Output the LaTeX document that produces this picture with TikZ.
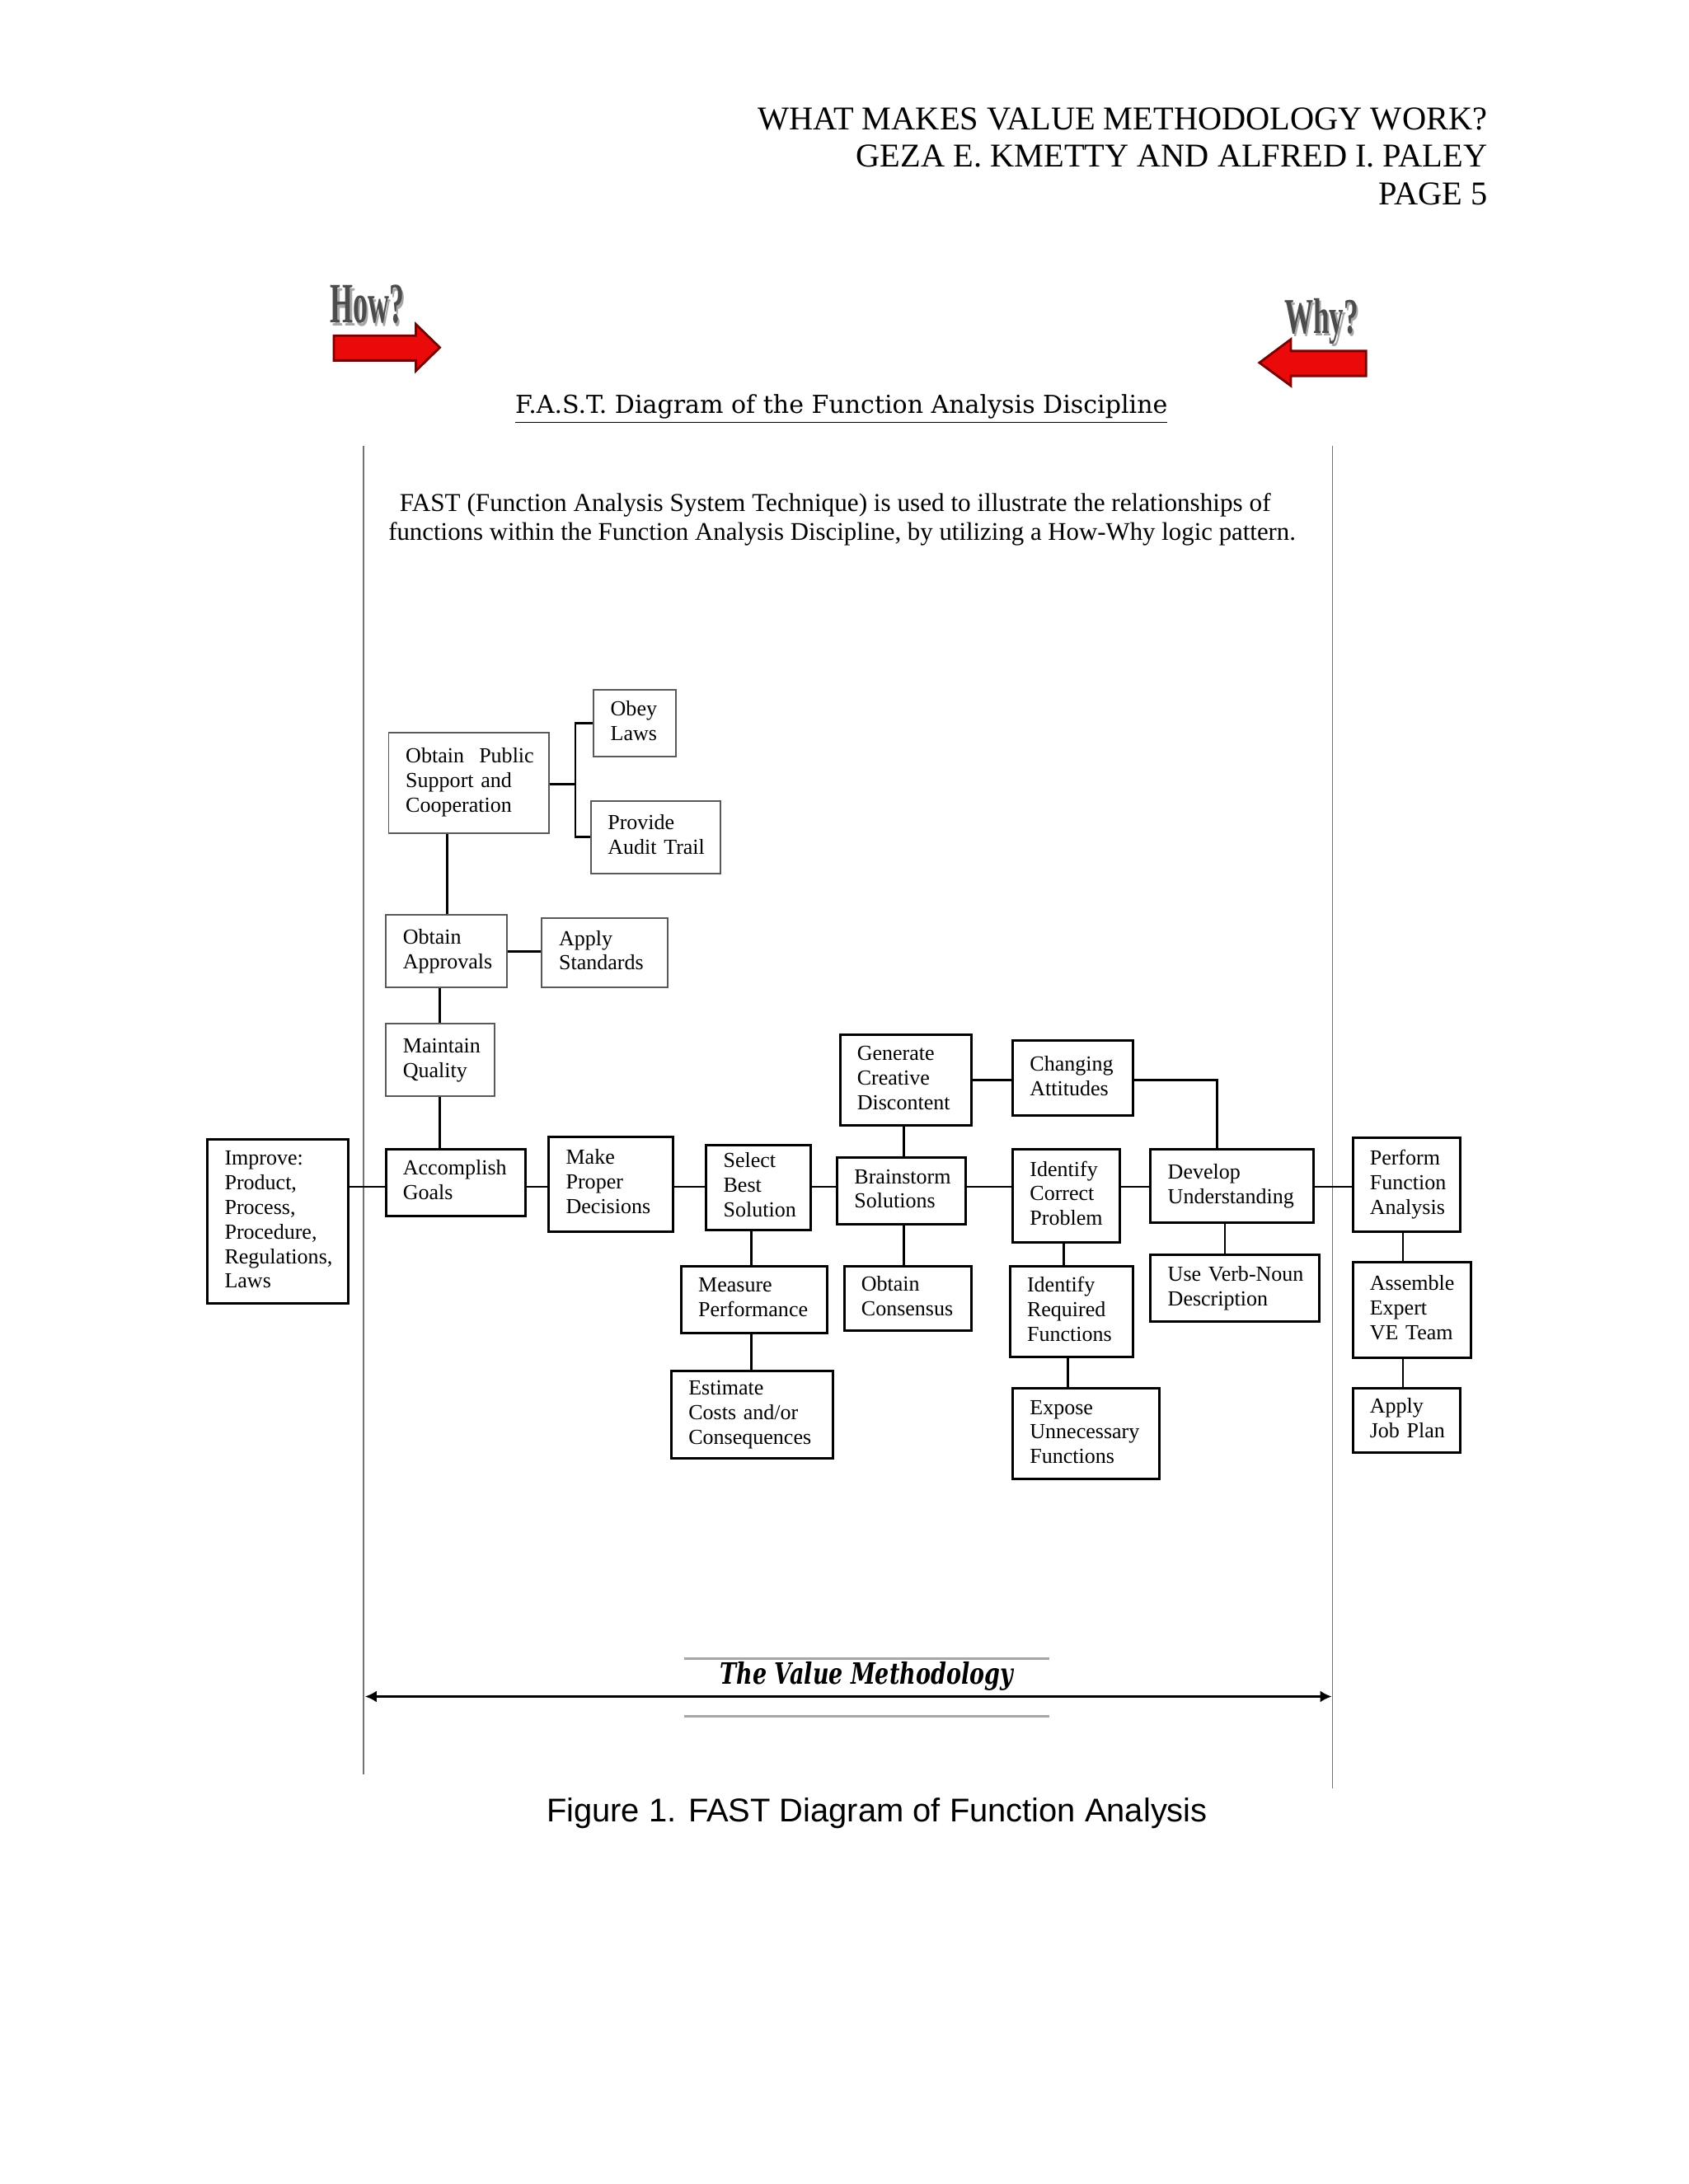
\documentclass[tikz,border=0pt]{standalone}
\usepackage{graphicx}
\usepackage{fontspec}
\setmainfont{Liberation Serif}
\newfontfamily\sansf{Liberation Sans}
\newfontfamily\slabf{DejaVu Serif}
\usetikzlibrary{arrows.meta}
\definecolor{arrowred}{RGB}{235,10,10}
\definecolor{arrowdark}{RGB}{120,0,0}
\tikzset{
  mainbox/.style={draw=black, line width=0.85pt, inner xsep=0pt, inner ysep=0pt, align=left,
     font=\fontsize{7.4}{8.5}\selectfont},
  lightbox/.style={mainbox, draw=black!65, line width=0.55pt},
  conn/.style={draw=black, line width=0.8pt},
  frame/.style={draw=black!55, line width=0.45pt},
  grayrule/.style={draw=black!35, line width=0.9pt},
  redarrow/.style={fill=arrowred, draw=arrowdark, line width=0.8pt, line join=miter},
  hdr/.style={anchor=base east, font=\fontsize{11.48}{13}\selectfont, inner sep=0pt},
}
\newcommand\mkbox[7][mainbox]{%
  \pgfmathsetmacro\bw{(#5-#3)*0.48078}%
  \pgfmathsetmacro\bh{(#6-#4)*0.48078}%
  \node[#1, minimum width=\bw pt, minimum height=\bh pt, text width=\bw pt] (#2) at ({(#3+#5)/2},{(#4+#6)/2})
    {\begin{tabular}{@{\hspace{5.9pt}}l@{}}#7\end{tabular}};}
\begin{document}
\begin{tikzpicture}[x=0.016898cm, y=-0.016898cm]
\useasboundingbox (0,0) rectangle (1212,1568);
\fill[white] (0,0) rectangle (1212,1568);

% header
\node[hdr] (h1) at (1068,93) {WHAT MAKES VALUE METHODOLOGY WORK?};
\node[hdr] (h2) at (1068,120) {GEZA E. KMETTY AND ALFRED I. PALEY};
\node[hdr] (h3) at (1068,147) {PAGE 5};

% How? / Why?
\node[inner sep=0pt, text=black!35] (howsh) at (265,220.5) {\resizebox{25.5pt}{13pt}{\bfseries How?}};
\node[inner sep=0pt, text=black!70] (how) at (263.5,218.5) {\resizebox{25.5pt}{13pt}{\bfseries How?}};
\node[inner sep=0pt, text=black!35] (whysh) at (950,232.5) {\resizebox{25.5pt}{12pt}{\bfseries Why?}};
\node[inner sep=0pt, text=black!70] (why) at (948.5,230.5) {\resizebox{25.5pt}{12pt}{\bfseries Why?}};
\draw[redarrow] (239.6,241) -- (298.5,241) -- (298.5,232.8) -- (315.7,249.5) -- (298.5,266.3) -- (298.5,258.8) -- (239.6,258.8) -- cycle;
\draw[redarrow] (980.6,252) -- (926.6,252) -- (926.6,243.6) -- (904,260.4) -- (926.6,277) -- (926.6,269.9) -- (980.6,269.9) -- cycle;

% title
\node[anchor=base, inner sep=0pt] (title) at (604,297) {\resizebox{225pt}{!}{\slabf\underline{F.A.S.T. Diagram of the Function Analysis Discipline}}};

% frame lines
\coordinate (fl1) at (261,320); \coordinate (fl2) at (261,1274);
\coordinate (fr1) at (956.5,320); \coordinate (fr2) at (956.5,1284);
\draw[frame] (fl1) -- (fl2);
\draw[frame] (fr1) -- (fr2);

% paragraph
\node[anchor=base, inner sep=0pt] (p1) at (599.5,367) {\resizebox{300.5pt}{!}{FAST (Function Analysis System Technique) is used to illustrate the relationships of}};
\node[anchor=base, inner sep=0pt] (p2) at (604.5,388) {\resizebox{313pt}{!}{functions within the Function Analysis Discipline, by utilizing a How-Why logic pattern.}};

% boxes
\mkbox[lightbox]{sup}{279}{526}{394}{598}{Obtain\hspace{0.7em}Public\\Support and\\Cooperation}
\mkbox[lightbox]{obl}{426}{495}{485}{543}{Obey\\Laws}
\mkbox[lightbox]{pat}{424}{575}{517}{627}{Provide\\Audit Trail}
\mkbox[lightbox]{app}{277}{657}{364}{709}{Obtain\\Approvals}
\mkbox[lightbox]{aps}{389}{659}{479}{709}{Apply\\Standards}
\mkbox[lightbox]{mq}{277}{735}{355}{787}{Maintain\\Quality}
\mkbox{acc}{277}{825}{377}{873}{Accomplish\\Goals}
\mkbox{imp}{149}{818}{250}{936}{Improve:\\Product,\\Process,\\Procedure,\\Regulations,\\Laws}
\mkbox{mpd}{394}{816}{483}{884}{Make\\Proper\\Decisions}
\mkbox{sbs}{507}{822}{582}{883}{Select\\Best\\Solution}
\mkbox{mea}{489}{909}{594}{957}{Measure\\Performance}
\mkbox{est}{482}{984}{598}{1047}{Estimate\\Costs and/or\\Consequences}
\mkbox{gen}{603}{743}{697}{808}{Generate\\Creative\\Discontent}
\mkbox{brs}{601}{831}{693}{879}{Brainstorm\\Solutions}
\mkbox{con}{606}{909}{697}{955}{Obtain\\Consensus}
\mkbox{cha}{727}{747}{813}{801}{Changing\\Attitudes}
\mkbox{icp}{727}{825}{804}{892}{Identify\\Correct\\Problem}
\mkbox{irf}{725}{909}{813}{974}{Identify\\Required\\Functions}
\mkbox{exu}{727}{997}{832}{1062}{Expose\\Unnecessary\\Functions}
\mkbox{dev}{826}{825}{943}{878}{Develop\\Understanding}
\mkbox{uvn}{826}{901}{947}{949}{Use Verb-Noun\\Description}
\mkbox{pfa}{971}{817}{1048}{884}{Perform\\Function\\Analysis}
\mkbox{ave}{971}{906}{1056}{975}{Assemble\\Expert\\VE Team}
\mkbox{ajp}{971}{997}{1048}{1043}{Apply\\Job Plan}

% helper coordinates
\coordinate (mainy) at (0,852);
\coordinate (brk) at (413,563);
\coordinate (cdx) at (873.4,0);
\coordinate (uvx) at (879.3,0);
\coordinate (pax) at (1007,0);
\coordinate (mqx) at (315.5,0);
\coordinate (apx) at (321,0);
\coordinate (smx) at (539.5,0);
\coordinate (gbx) at (649,0);
\coordinate (icx) at (763.5,0);
\coordinate (iex) at (766.6,0);

% connectors: main line
\draw[conn] (imp.east |- mainy) -- (acc.west |- mainy);
\draw[conn] (acc.east |- mainy) -- (mpd.west |- mainy);
\draw[conn] (mpd.east |- mainy) -- (sbs.west |- mainy);
\draw[conn] (sbs.east |- mainy) -- (brs.west |- mainy);
\draw[conn] (brs.east |- mainy) -- (icp.west |- mainy);
\draw[conn] (icp.east |- mainy) -- (dev.west |- mainy);
\draw[conn] (dev.east |- mainy) -- (pfa.west |- mainy);

% upper left chain
\draw[conn] (acc.north -| mqx) -- (mq.south -| mqx);
\draw[conn] (mq.north -| mqx) -- (app.south -| mqx);
\draw[conn] (app.north -| apx) -- (sup.south -| apx);
\draw[conn] (app.east) -- (app.east -| aps.west);
\draw[conn] (sup.east |- brk) -- (brk);
\draw[conn] (obl.west) -| (brk) |- (pat.west);

% select / measure / estimate
\draw[conn] (sbs.south -| smx) -- (mea.north -| smx);
\draw[conn] (mea.south -| smx) -- (est.north -| smx);

% generate / brainstorm / consensus
\draw[conn] (gen.south -| gbx) -- (brs.north -| gbx);
\draw[conn] (brs.south -| gbx) -- (con.north -| gbx);
\draw[conn] (gen.east) -- (gen.east -| cha.west);
\draw[conn] (cha.east |- gen.east) -| (dev.north -| cdx);

% identify chain
\draw[conn] (icp.south -| icx) -- (irf.north -| icx);
\draw[conn] (irf.south -| iex) -- (exu.north -| iex);

% develop / verb-noun
\draw[conn] (dev.south -| uvx) -- (uvn.north -| uvx);

% right column
\draw[conn] (pfa.south -| pax) -- (ave.north -| pax);
\draw[conn] (ave.south -| pax) -- (ajp.north -| pax);

% value methodology
\coordinate (g1a) at (491,1191); \coordinate (g1b) at (753,1191);
\coordinate (g2a) at (491,1232); \coordinate (g2b) at (753,1232);
\draw[grayrule] (g1a) -- (g1b);
\draw[grayrule] (g2a) -- (g2b);
\node[anchor=base, inner sep=0pt] (tvm) at (622,1209) {\resizebox{101pt}{7.7pt}{\slabf\bfseries\itshape The Value Methodology}};
\coordinate (arL) at (262,1218); \coordinate (arR) at (956,1218);
\draw[line width=1.1pt, {Latex[length=4pt,width=4pt]}-{Latex[length=4pt,width=4pt]}] (arL) -- (arR);

% caption
\node[anchor=base, inner sep=0pt] (cap) at (629.5,1308) {\resizebox{228pt}{!}{\sansf Figure 1. FAST Diagram of Function Analysis}};
\end{tikzpicture}
\end{document}
